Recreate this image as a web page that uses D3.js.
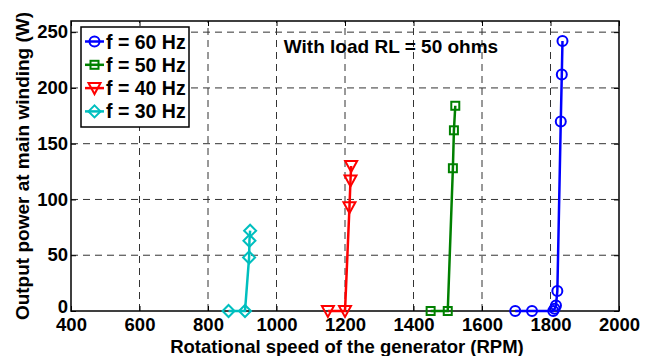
<!DOCTYPE html>
<html>
<head>
<meta charset="utf-8">
<script src="https://cdn.jsdelivr.net/npm/d3@7"></script>
<style>
  body { margin: 0; background: #fff; }
  text { font-family: 'Liberation Sans', Arial, sans-serif; font-weight: bold; }
</style>
</head>
<body>
<div id="chart"></div>
<script>
const xTicks = [400, 600, 800, 1000, 1200, 1400, 1600, 1800, 2000];
const yTicks = [0, 50, 100, 150, 200, 250];

const rpm60 = [1697, 1746, 1808, 1812, 1816, 1820, 1830, 1833, 1835];
const pow60 = [0, 0, 0, 2, 5, 18, 170, 212, 242];
const rpm50 = [1450, 1500, 1515, 1518, 1522];
const pow50 = [0, 0, 128, 162, 184];
const rpm40 = [1150, 1200, 1213, 1216, 1218];
const pow40 = [0, 0, 93, 117, 130];
const rpm30 = [860, 908, 920, 921, 923];
const pow30 = [0, 0, 48, 63, 72];

const seriesNames = ['f = 60 Hz', 'f = 50 Hz', 'f = 40 Hz', 'f = 30 Hz'];

const width = 652, height = 356;
const margin = { top: 21, right: 33, bottom: 45, left: 71 };

const series = [
  { name: seriesNames[0], x: rpm60, y: pow60, color: '#0000ff', marker: 'circle' },
  { name: seriesNames[1], x: rpm50, y: pow50, color: '#008000', marker: 'square' },
  { name: seriesNames[2], x: rpm40, y: pow40, color: '#ff0000', marker: 'triangle' },
  { name: seriesNames[3], x: rpm30, y: pow30, color: '#00bfbf', marker: 'diamond' }
];

const svg = d3.select('#chart').append('svg')
  .attr('width', width)
  .attr('height', height);

const x = d3.scaleLinear().domain([400, 2000]).range([margin.left, width - margin.right]);
const y = d3.scaleLinear().domain([0, 260]).range([height - margin.bottom, margin.top]);

// grid
svg.append('g')
  .selectAll('line')
  .data(xTicks.slice(1, -1))
  .enter()
  .append('line')
  .attr('x1', (d) => x(d)).attr('x2', (d) => x(d))
  .attr('y1', y(0)).attr('y2', y(260))
  .attr('stroke', '#333').attr('stroke-width', 1).attr('stroke-dasharray', '7,5');

svg.append('g')
  .selectAll('line')
  .data(yTicks.slice(1))
  .enter()
  .append('line')
  .attr('x1', x(400)).attr('x2', x(2000))
  .attr('y1', (d) => y(d)).attr('y2', (d) => y(d))
  .attr('stroke', '#333').attr('stroke-width', 1).attr('stroke-dasharray', '7,5');

// axes (inner ticks, matlab style)
const xAxis = svg.append('g')
  .attr('transform', `translate(0,${y(0)})`)
  .call(d3.axisBottom(x).tickValues(xTicks).tickFormat(d3.format('d'))
    .tickSize(-5).tickPadding(7).tickSizeOuter(0));
const yAxis = svg.append('g')
  .attr('transform', `translate(${x(400)},0)`)
  .call(d3.axisLeft(y).tickValues(yTicks).tickFormat(d3.format('d'))
    .tickSize(-5).tickPadding(3).tickSizeOuter(0));
svg.append('g')
  .attr('transform', `translate(0,${y(260)})`)
  .call(d3.axisTop(x).tickValues(xTicks).tickSize(-5).tickFormat(''));
svg.append('g')
  .attr('transform', `translate(${x(2000)},0)`)
  .call(d3.axisRight(y).tickValues(yTicks).tickSize(-5).tickFormat(''));

svg.selectAll('.domain').remove();
svg.selectAll('.tick line').attr('stroke', '#000').attr('stroke-width', 1);
xAxis.selectAll('text').style('font-size', '18.5px').attr('fill', '#000').attr('dy', '0.72em');
yAxis.selectAll('text').style('font-size', '18.5px').attr('fill', '#000')
  .attr('dy', (d) => (d === 0 ? '0.1em' : '0.3em'));

svg.append('rect')
  .attr('x', x(400)).attr('y', y(260))
  .attr('width', x(2000) - x(400)).attr('height', y(0) - y(260))
  .attr('fill', 'none').attr('stroke', '#000').attr('stroke-width', 1.5);

function drawMarker(g, type, color, cx, cy) {
  if (type === 'circle') {
    g.append('circle').attr('cx', cx).attr('cy', cy).attr('r', 5)
      .attr('fill', 'none').attr('stroke', color).attr('stroke-width', 2);
  } else if (type === 'square') {
    g.append('rect').attr('x', cx - 4).attr('y', cy - 4).attr('width', 8).attr('height', 8)
      .attr('fill', 'none').attr('stroke', color).attr('stroke-width', 2);
  } else if (type === 'triangle') {
    g.append('path').attr('d', `M${cx - 6},${cy - 5}L${cx + 6},${cy - 5}L${cx},${cy + 6}Z`)
      .attr('fill', 'none').attr('stroke', color).attr('stroke-width', 2);
  } else {
    g.append('path').attr('d', `M${cx},${cy - 6}L${cx + 6},${cy}L${cx},${cy + 6}L${cx - 6},${cy}Z`)
      .attr('fill', 'none').attr('stroke', color).attr('stroke-width', 2);
  }
}

const line = d3.line().x((d) => x(d[0])).y((d) => y(d[1]));

series.forEach((s) => {
  const pts = s.x.map((v, i) => [v, s.y[i]]);
  const g = svg.append('g');
  g.append('path').datum(pts).attr('d', line)
    .attr('fill', 'none').attr('stroke', s.color).attr('stroke-width', 2.5);
  pts.forEach((p) => drawMarker(g, s.marker, s.color, x(p[0]), y(p[1])));
});

// legend
const legend = svg.append('g');
legend.append('rect')
  .attr('x', 81).attr('y', 27).attr('width', 108).attr('height', 100)
  .attr('fill', '#fff').attr('stroke', '#000').attr('stroke-width', 1.5);
series.forEach((s, i) => {
  const ly = 41.5 + i * 23.3;
  legend.append('line').attr('x1', 85).attr('x2', 104).attr('y1', ly).attr('y2', ly)
    .attr('stroke', s.color).attr('stroke-width', 2.5);
  drawMarker(legend, s.marker, s.color, 94.5, ly);
  legend.append('text').attr('x', 106).attr('y', ly)
    .attr('dominant-baseline', 'central')
    .style('font-size', '19.5px').text(s.name);
});

svg.append('text')
  .attr('x', 391).attr('y', 46)
  .attr('text-anchor', 'middle').attr('dominant-baseline', 'central')
  .style('font-size', '19px').text('With load RL = 50 ohms');

svg.append('text')
  .attr('x', 347).attr('y', 352.5)
  .attr('text-anchor', 'middle')
  .style('font-size', '18.5px').text('Rotational speed of the generator (RPM)');

svg.append('text')
  .attr('transform', `translate(29,${(y(0) + y(260)) / 2}) rotate(-90)`)
  .attr('text-anchor', 'middle')
  .style('font-size', '19px').text('Output power at main winding (W)');
</script>
</body>
</html>
